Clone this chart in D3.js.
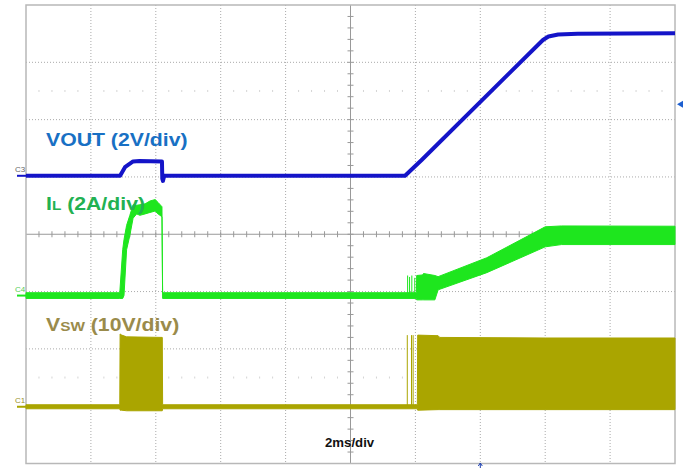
<!DOCTYPE html>
<html>
<head>
<meta charset="utf-8">
<script src="https://cdn.jsdelivr.net/npm/d3@7"></script>
<style>
  body { margin: 0; background: #fff; }
  svg { display: block; font-family: 'Liberation Sans', Arial, sans-serif; }
</style>
</head>
<body>
<svg id="scope" width="686" height="468"></svg>
<script>
// time in ms from left edge of screen (2ms/div, 10 div)
var voutTime  = [0, 2.9, 3.05, 3.3, 3.5, 4.19, 4.2, 4.22, 4.26, 11.68, 12.2, 15.93, 16.1, 16.4, 17, 20];
var voutVolts = [0, 0, 0.3, 0.5, 0.52, 0.5, -0.1, -0.18, 0, 0, 0.56, 4.74, 4.86, 4.93, 4.96, 4.97];

// inductor current envelope (A), low / high edge of the noisy band
var ilTime = [0, 2.89, 2.98, 3.02, 3.1, 3.2, 3.3, 3.41, 3.51, 3.67, 3.82, 3.98, 4.07, 4.19, 4.21,
              12.03, 12.04, 12.22, 12.25, 12.6, 12.7, 14.2, 16.0, 16.5, 20];
var ilLow  = [-0.1, -0.1, -0.1, 0, 1.6, 2.1, 2.7, 2.85, 2.8, 2.85, 2.9, 2.95, 2.85, 2.75, -0.1,
              -0.1, -0.15, -0.15, -0.15, -0.15, 0.2, 0.8, 1.7, 1.78, 1.78];
var ilHigh = [0.1, 0.1, 1.6, 1.95, 2.45, 2.8, 3.17, 3.15, 3.17, 3.2, 3.3, 3.35, 3.25, 3.1, 0.1,
              0.1, 0.7, 0.72, 0.77, 0.7, 0.66, 1.32, 2.4, 2.43, 2.42];
var ilSpikeTime = [11.76, 11.82, 11.89, 11.98];
var ilSpikeAmps = [0.7, 0.65, 0.7, 0.62];

// switch node envelope (V)
var vswTime = [0, 2.89, 2.9, 2.95, 3.1, 4.2, 4.21, 12.06, 12.07, 12.7, 12.75, 16, 20];
var vswLow  = [-0.35, -0.35, -0.6, -0.6, -0.7, -0.7, -0.35, -0.35, -0.6, -0.5, -0.5, -0.5, -0.5];
var vswHigh = [0.35, 0.35, 12.7, 12.5, 12.2, 12.1, 0.35, 0.35, 12.5, 12.4, 12.1, 12.0, 12.0];
var vswSpikeTime  = [11.75, 11.88, 11.93];
var vswSpikeVolts = [12.5, 12.5, 12.5];

// channel settings: units per division and ground offset in divisions
var voutPerDiv = 2, voutOffset = 5.02;
var ilPerDiv = 2, ilOffset = 2.93;
var vswPerDiv = 10, vswOffset = 0.99;
var trigLevel = 2.5; // V on VOUT

var pLeft = 26, pRight = 675, pTop = 5, pBottom = 463.5;
var blue = '#1414c8', green = '#1ee61e', olive = '#aaa500';

var svg = d3.select('#scope');
var x = d3.scaleLinear().domain([0, 20]).range([pLeft, pRight]);
var div = d3.scaleLinear().domain([0, 8]).range([pBottom, pTop]);
var xDiv = d3.scaleLinear().domain([0, 10]).range([pLeft, pRight]);

function chanScale(perDiv, offset) {
    return d3.scaleLinear().domain([-offset * perDiv, (8 - offset) * perDiv]).range([pBottom, pTop]);
}
var yVout = chanScale(voutPerDiv, voutOffset),
    yIl = chanScale(ilPerDiv, ilOffset),
    yVsw = chanScale(vswPerDiv, vswOffset);

// graticule
var grid = svg.append('g');
grid.selectAll(null)
    .data(d3.range(1, 10).filter(d => d !== 5))
    .enter().append('line')
    .attr('x1', d => xDiv(d)).attr('x2', d => xDiv(d))
    .attr('y1', pTop).attr('y2', pBottom)
    .attr('stroke', '#aaa').attr('stroke-dasharray', '1,2');
grid.selectAll(null)
    .data(d3.range(1, 8).filter(d => d !== 4))
    .enter().append('line')
    .attr('x1', pLeft).attr('x2', pRight)
    .attr('y1', d => div(d)).attr('y2', d => div(d))
    .attr('stroke', '#aaa').attr('stroke-dasharray', '1,2');

// faint rows of minor marks
[1.5, 6.5].forEach(r => {
    grid.selectAll(null)
        .data(d3.range(1, 50).filter(d => d % 5 !== 0))
        .enter().append('line')
        .attr('x1', d => xDiv(d / 5)).attr('x2', d => xDiv(d / 5))
        .attr('y1', div(r) - 1).attr('y2', div(r) + 1)
        .attr('stroke', '#d4d4d4');
});

// centre cross with minor ticks
grid.append('line')
    .attr('x1', xDiv(5)).attr('x2', xDiv(5)).attr('y1', pTop).attr('y2', pBottom)
    .attr('stroke', '#999');
grid.append('line')
    .attr('x1', pLeft).attr('x2', pRight).attr('y1', div(4)).attr('y2', div(4))
    .attr('stroke', '#999');
grid.selectAll(null)
    .data(d3.range(1, 40))
    .enter().append('line')
    .attr('x1', xDiv(5) - 3).attr('x2', xDiv(5) + 3)
    .attr('y1', d => div(d / 5)).attr('y2', d => div(d / 5))
    .attr('stroke', '#999');
grid.selectAll(null)
    .data(d3.range(1, 50))
    .enter().append('line')
    .attr('x1', d => xDiv(d / 5)).attr('x2', d => xDiv(d / 5))
    .attr('y1', div(4) - 3).attr('y2', div(4) + 3)
    .attr('stroke', '#999');

grid.append('rect')
    .attr('x', pLeft).attr('y', pTop)
    .attr('width', pRight - pLeft).attr('height', pBottom - pTop)
    .attr('fill', 'none').attr('stroke', '#b8b8b8').attr('stroke-width', 1.5);

// traces
function band(t, lo, hi, y) {
    return d3.area()
        .x(i => x(t[i])).y0(i => y(lo[i])).y1(i => y(hi[i]))(d3.range(t.length));
}

svg.append('path')
    .attr('d', band(vswTime, vswLow, vswHigh, yVsw))
    .attr('fill', olive).attr('stroke', olive).attr('stroke-width', 1);
svg.selectAll(null)
    .data(vswSpikeTime)
    .enter().append('line')
    .attr('x1', d => x(d)).attr('x2', d => x(d))
    .attr('y1', yVsw(0)).attr('y2', (d, i) => yVsw(vswSpikeVolts[i]))
    .attr('stroke', olive).attr('stroke-width', 1);

svg.append('path')
    .attr('d', band(ilTime, ilLow, ilHigh, yIl))
    .attr('fill', green).attr('stroke', green).attr('stroke-width', 1);
svg.selectAll(null)
    .data(ilSpikeTime)
    .enter().append('line')
    .attr('x1', d => x(d)).attr('x2', d => x(d))
    .attr('y1', yIl(0)).attr('y2', (d, i) => yIl(ilSpikeAmps[i]))
    .attr('stroke', green).attr('stroke-width', 1);

svg.append('path')
    .attr('d', d3.line().x(i => x(voutTime[i])).y(i => yVout(voutVolts[i]))(d3.range(voutTime.length)))
    .attr('fill', 'none').attr('stroke', blue).attr('stroke-width', 4)
    .attr('stroke-linejoin', 'round');

// channel ground markers
[['C3', yVout(0), '#666', blue], ['C4', yIl(0), '#5c5', green], ['C1', yVsw(0), '#998f2a', olive]].forEach(c => {
    svg.append('line')
        .attr('x1', 17).attr('x2', pLeft).attr('y1', c[1]).attr('y2', c[1])
        .attr('stroke', c[3]).attr('stroke-width', 2);
    svg.append('text')
        .attr('x', 15).attr('y', c[1] - 4)
        .attr('font-size', 8).attr('fill', c[2])
        .text(c[0]);
});

// trigger markers
svg.append('path')
    .attr('d', 'M677,' + yVout(trigLevel) + 'l6,-3.5v7z')
    .attr('fill', '#1c5fd0');
svg.append('path')
    .attr('d', 'M' + xDiv(7) + ',463v5M' + (xDiv(7) - 2) + ',466l2,-3l2,3')
    .attr('stroke', '#1c3fb0').attr('fill', 'none').attr('stroke-width', 1);

// labels
function label(tx, ty, color, parts) {
    var t = svg.append('text')
        .attr('transform', 'translate(' + tx + ',' + ty + ') scale(1.18,1)')
        .attr('font-size', 18).attr('font-weight', 'bold').attr('fill', color);
    parts.forEach(p => t.append('tspan').attr('font-size', p[1]).text(p[0]));
}
label(46, 146, '#1870c4', [['VOUT (2V/div)', 18]]);
label(46, 210, '#22b152', [['I', 18], ['L', 13], [' (2A/div)', 18]]);
label(46, 331, '#9a8b4b', [['V', 18], ['SW', 13], [' (10V/div)', 18]]);

svg.append('text')
    .attr('transform', 'translate(325,447) scale(1.1,1)')
    .attr('font-size', 12).attr('font-weight', 'bold').attr('fill', '#111')
    .text('2ms/div');
</script>
</body>
</html>
